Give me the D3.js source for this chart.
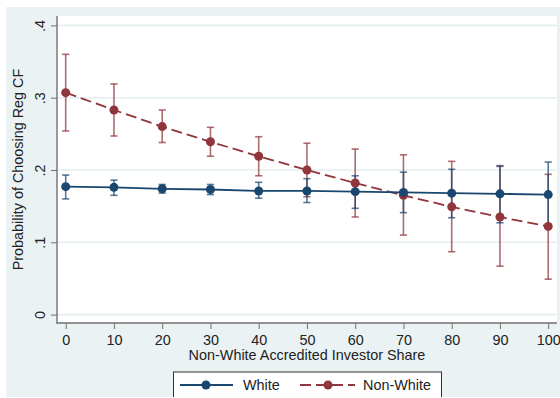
<!DOCTYPE html>
<html>
<head>
<meta charset="utf-8">
<script src="https://cdn.jsdelivr.net/npm/d3@7"></script>
<style>
  html, body { margin: 0; padding: 0; background: #ffffff; }
  svg { display: block; font-family: "Liberation Sans", Arial, Helvetica, sans-serif; }
</style>
</head>
<body>
<svg id="chart" width="560" height="398"></svg>
<script>
// ---- data ----
const shares = [0, 10, 20, 30, 40, 50, 60, 70, 80, 90, 100];
const whiteMean = [0.177, 0.176, 0.174, 0.173, 0.171, 0.171, 0.170, 0.169, 0.168, 0.167, 0.166];
const whiteLo   = [0.160, 0.165, 0.168, 0.166, 0.161, 0.155, 0.147, 0.141, 0.134, 0.127, 0.122];
const whiteHi   = [0.193, 0.186, 0.180, 0.180, 0.183, 0.188, 0.192, 0.197, 0.201, 0.206, 0.211];
const nonWhiteMean = [0.307, 0.283, 0.260, 0.239, 0.219, 0.200, 0.182, 0.165, 0.149, 0.135, 0.122];
const nonWhiteLo   = [0.254, 0.247, 0.238, 0.219, 0.192, 0.163, 0.135, 0.110, 0.087, 0.067, 0.049];
const nonWhiteHi   = [0.360, 0.319, 0.283, 0.259, 0.246, 0.237, 0.229, 0.221, 0.212, 0.205, 0.194];
const yTickValues = [0, 0.1, 0.2, 0.3, 0.4];
const yTickLabels = ["0", ".1", ".2", ".3", ".4"];
const xTickValues = [0, 10, 20, 30, 40, 50, 60, 70, 80, 90, 100];
const xTickLabels = ["0", "10", "20", "30", "40", "50", "60", "70", "80", "90", "100"];
const seriesNames = ["White", "Non-White"];
const xTitle = "Non-White Accredited Investor Share";
const yTitle = "Probability of Choosing Reg CF";

// ---- styles ----
const navy = "#1a476f";
const maroon = "#90353b";
const bg = "#eaf2f3";
const grid = "#e4eef0";
const axisCol = "#707070";
const font = 14.4;
const dashPattern = "11,5";

const svg = d3.select("#chart");

// outer graph region
svg.append("defs").append("clipPath").attr("id", "outer")
  .append("rect").attr("x", 6).attr("y", 7).attr("width", 554).attr("height", 390);
svg.append("rect").attr("x", 6).attr("y", 7).attr("width", 554).attr("height", 390).attr("fill", bg);

const plotL = 57, plotR = 557, plotT = 16, plotB = 323;
svg.append("rect").attr("x", plotL).attr("y", plotT).attr("width", plotR - plotL).attr("height", plotB - plotT).attr("fill", "#ffffff");

const x = d3.scaleLinear().domain([0, 100]).range([65.7, 548.2]);
const y = d3.scaleLinear().domain([0, 0.4]).range([314.6, 25.4]);

// gridlines
svg.append("g").selectAll("line").data(yTickValues).join("line")
  .attr("x1", plotL).attr("x2", plotR)
  .attr("y1", d => y(d)).attr("y2", d => y(d))
  .attr("stroke", grid).attr("stroke-width", 1.6);

// y axis
const yAxis = d3.axisLeft(y).tickValues(yTickValues).tickFormat((d, i) => yTickLabels[i]).tickSize(6).tickPadding(7);
const gy = svg.append("g").attr("transform", `translate(${plotL},0)`).call(yAxis);
gy.select(".domain").remove();
gy.selectAll(".tick line").attr("stroke", axisCol).attr("stroke-width", 1);
gy.selectAll(".tick text")
  .attr("font-size", font).attr("fill", "#222").attr("font-family", "Liberation Sans, Arial, sans-serif")
  .attr("text-anchor", "middle").attr("x", 0).attr("dy", 0)
  .attr("transform", "translate(-12,0) rotate(-90)");
svg.append("line").attr("x1", plotL).attr("x2", plotL).attr("y1", plotT).attr("y2", plotB + 0.5)
  .attr("stroke", axisCol).attr("stroke-width", 1.4);

// x axis
const xAxis = d3.axisBottom(x).tickValues(xTickValues).tickFormat((d, i) => xTickLabels[i]).tickSize(6).tickPadding(6);
const gx = svg.append("g").attr("transform", `translate(0,${plotB})`).call(xAxis);
gx.select(".domain").remove();
gx.selectAll(".tick line").attr("stroke", axisCol).attr("stroke-width", 1);
gx.selectAll(".tick text").attr("font-size", font).attr("fill", "#222")
  .attr("font-family", "Liberation Sans, Arial, sans-serif").attr("dy", "0.71em");
svg.append("line").attr("x1", plotL - 0.5).attr("x2", plotR).attr("y1", plotB).attr("y2", plotB)
  .attr("stroke", axisCol).attr("stroke-width", 1.4);

// axis titles
svg.append("text").attr("x", (plotL + plotR) / 2).attr("y", 360)
  .attr("text-anchor", "middle").attr("font-size", font).attr("fill", "#222").text(xTitle);
svg.append("text").attr("transform", `translate(23,${(plotT + plotB) / 2}) rotate(-90)`)
  .attr("text-anchor", "middle").attr("font-size", font).attr("fill", "#222").text(yTitle);

// series
const series = [
  { name: seriesNames[1], mean: nonWhiteMean, lo: nonWhiteLo, hi: nonWhiteHi, color: maroon, dash: dashPattern },
  { name: seriesNames[0], mean: whiteMean, lo: whiteLo, hi: whiteHi, color: navy, dash: null }
];
const capW = 3.6;

series.forEach(s => {
  const g = svg.append("g").attr("stroke", s.color).attr("stroke-opacity", 0.72).attr("stroke-width", 1.6);
  shares.forEach((v, i) => {
    g.append("line").attr("x1", x(v)).attr("x2", x(v)).attr("y1", y(s.lo[i])).attr("y2", y(s.hi[i]));
    g.append("line").attr("x1", x(v) - capW).attr("x2", x(v) + capW).attr("y1", y(s.lo[i])).attr("y2", y(s.lo[i]));
    g.append("line").attr("x1", x(v) - capW).attr("x2", x(v) + capW).attr("y1", y(s.hi[i])).attr("y2", y(s.hi[i]));
  });
});

const line = d3.line().x(d => x(d[0])).y(d => y(d[1]));
series.forEach(s => {
  const pts = shares.map((v, i) => [v, s.mean[i]]);
  svg.append("path").datum(pts).attr("d", line).attr("fill", "none")
    .attr("stroke", s.color).attr("stroke-width", 1.8)
    .attr("stroke-dasharray", s.dash);
  svg.append("g").selectAll("circle").data(pts).join("circle")
    .attr("cx", d => x(d[0])).attr("cy", d => y(d[1])).attr("r", 4.5).attr("fill", s.color);
});

// legend
const lg = svg.append("g").attr("clip-path", "url(#outer)");
lg.append("rect").attr("x", 173.5).attr("y", 372).attr("width", 268).attr("height", 40)
  .attr("fill", "#ffffff").attr("stroke", "#333").attr("stroke-width", 1);
const legendItems = [
  { name: seriesNames[0], color: navy, dash: null, x0: 180, x1: 233, mx: 206, tx: 243 },
  { name: seriesNames[1], color: maroon, dash: dashPattern, x0: 300, x1: 355, mx: 328, tx: 363 }
];
legendItems.forEach(it => {
  lg.append("line").attr("x1", it.x0).attr("x2", it.x1).attr("y1", 385).attr("y2", 385)
    .attr("stroke", it.color).attr("stroke-width", 1.8).attr("stroke-dasharray", it.dash);
  lg.append("circle").attr("cx", it.mx).attr("cy", 385).attr("r", 4.5).attr("fill", it.color);
  lg.append("text").attr("x", it.tx).attr("y", 390).attr("font-size", font).attr("fill", "#222").text(it.name);
});
</script>
</body>
</html>
